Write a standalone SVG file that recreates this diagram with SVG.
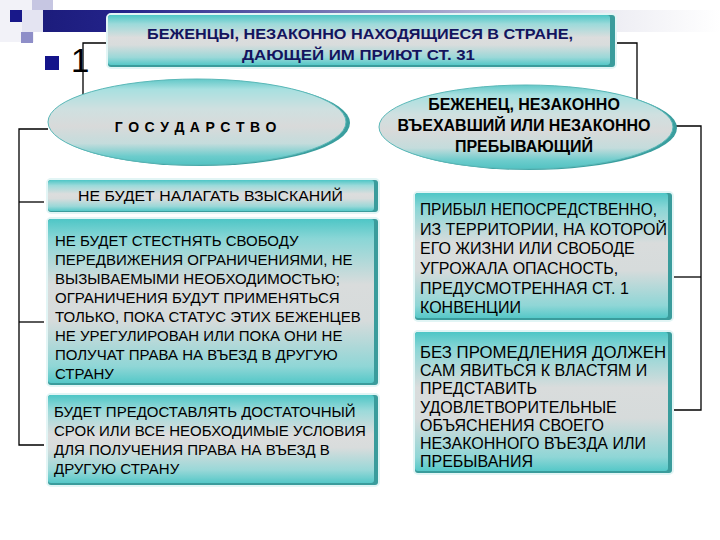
<svg xmlns="http://www.w3.org/2000/svg" width="720" height="540" viewBox="0 0 720 540">
<defs>
<linearGradient id="bar" x1="0" y1="0" x2="1" y2="0">
<stop offset="0" stop-color="#1c1c7c"/>
<stop offset="0.12" stop-color="#23238a"/>
<stop offset="0.5" stop-color="#8a8abf"/>
<stop offset="0.85" stop-color="#eeeef4"/>
<stop offset="1" stop-color="#ffffff"/>
</linearGradient>
<linearGradient id="boxg" x1="0" y1="0" x2="0" y2="1">
<stop offset="0" stop-color="#4ec6c6"/>
<stop offset="0.18" stop-color="#9cdada"/>
<stop offset="0.45" stop-color="#dcdddd"/>
<stop offset="0.6" stop-color="#d8dcdc"/>
<stop offset="0.85" stop-color="#9ad8d8"/>
<stop offset="1" stop-color="#55c8c8"/>
</linearGradient>
<linearGradient id="tallg" x1="0" y1="0" x2="0" y2="1">
<stop offset="0" stop-color="#4ec6c6"/>
<stop offset="0.12" stop-color="#8ad6d6"/>
<stop offset="0.4" stop-color="#d9dcdc"/>
<stop offset="0.62" stop-color="#d6dbdb"/>
<stop offset="0.9" stop-color="#8fd6d6"/>
<stop offset="1" stop-color="#55c8c8"/>
</linearGradient>
<linearGradient id="ellg" x1="0" y1="0" x2="0" y2="1">
<stop offset="0" stop-color="#62c8c8"/>
<stop offset="0.12" stop-color="#a8e0e0"/>
<stop offset="0.35" stop-color="#cfe0e0"/>
<stop offset="0.55" stop-color="#d8dada"/>
<stop offset="0.75" stop-color="#c4dcdc"/>
<stop offset="0.9" stop-color="#6ccccc"/>
<stop offset="1" stop-color="#52c2c2"/>
</linearGradient>
<style>
.line{fill:none;stroke:#000;stroke-width:1.3}
.edge{fill:#3a9c9c}
.glow{fill:none;stroke:#e2f5f5;stroke-width:4}
.t{font-family:"Liberation Sans","DejaVu Sans",sans-serif;font-size:15px;fill:#000}
.tr{font-family:"Liberation Sans","DejaVu Sans",sans-serif;font-size:16px;fill:#000}
.tb{font-family:"Liberation Sans","DejaVu Sans",sans-serif;font-weight:bold;fill:#000}
.title{font-family:"Liberation Sans","DejaVu Sans",sans-serif;font-weight:bold;font-size:15px;fill:#14145e}
.ell{fill:url(#ellg);stroke:#5ab8b8;stroke-width:1}
.ellsh{fill:#3a9e9e}
</style>
</defs>
<rect width="720" height="540" fill="#ffffff"/>
<g id="decor">
<rect x="0" y="0" width="34" height="42" fill="#f2f2f8"/>
<rect x="32" y="0" width="21" height="22" fill="#c6c6e2"/>
<rect x="22" y="10" width="21" height="22" fill="#e4e4f2"/>
<rect x="43" y="10" width="677" height="22" fill="url(#bar)"/>
<rect x="21" y="32" width="12" height="11" fill="#8e8ec8"/>
<rect x="10" y="10" width="12" height="12" fill="#18188a"/>
<rect x="45" y="56" width="14" height="14" fill="#14148a"/>
<text x="71" y="72" font-family="Liberation Sans, sans-serif" font-size="33" fill="#000">1</text>
</g>
<g id="connectors">
<polyline class="line" points="108,43 83,43 83,100"/>
<polyline class="line" points="612,43 637,43 637,100"/>
<polyline class="line" points="48,129 19,129 19,445 44,445"/>
<line class="line" x1="19" y1="202" x2="44" y2="202"/>
<line class="line" x1="19" y1="322" x2="44" y2="322"/>
<polyline class="line" points="672,126 701,126 701,410 672,410"/>
<line class="line" x1="672" y1="277" x2="701" y2="277"/>
</g>
<g id="title">
<rect class="glow" x="108" y="15" width="507" height="52" rx="3"/>
<rect class="edge" x="108" y="15" width="507" height="52" rx="3"/>
<rect x="108" y="15" width="502" height="50" rx="3" fill="url(#boxg)"/>
<text class="title" x="147" y="39" textLength="426" lengthAdjust="spacingAndGlyphs">БЕЖЕНЦЫ, НЕЗАКОННО НАХОДЯЩИЕСЯ В СТРАНЕ,</text>
<text class="title" x="242" y="60" textLength="233" lengthAdjust="spacingAndGlyphs">ДАЮЩЕЙ ИМ ПРИЮТ СТ. 31</text>
</g>
<g id="state">
<ellipse class="ellsh" cx="200" cy="123" rx="150" ry="43"/>
<ellipse class="ell" cx="197" cy="122" rx="149" ry="43"/>
<text class="tb" x="196" y="132" font-size="14" text-anchor="middle" letter-spacing="0.8">Г О С У Д А Р С Т В О</text>
</g>
<g id="refugee">
<ellipse class="ellsh" cx="529" cy="128" rx="148" ry="42"/>
<ellipse class="ell" cx="526" cy="127" rx="147" ry="42"/>
<text class="tb" font-size="16" text-anchor="middle"><tspan x="524" y="110">БЕЖЕНЕЦ, НЕЗАКОННО</tspan><tspan x="524" y="131">ВЪЕХАВШИЙ ИЛИ НЕЗАКОННО</tspan><tspan x="524" y="152">ПРЕБЫВАЮЩИЙ</tspan></text>
</g>
<g id="l1">
<rect class="glow" x="48" y="180" width="330" height="32" rx="3"/>
<rect class="edge" x="48" y="180" width="330" height="32" rx="3"/>
<rect x="48" y="180" width="326" height="31" rx="3" fill="url(#boxg)"/>
<text class="t" x="78" y="201" font-size="15.5" textLength="265" lengthAdjust="spacingAndGlyphs">НЕ БУДЕТ НАЛАГАТЬ ВЗЫСКАНИЙ</text>
</g>
<g id="l2">
<rect class="glow" x="48" y="219" width="330" height="166" rx="3"/>
<rect class="edge" x="48" y="219" width="330" height="166" rx="3"/>
<rect x="48" y="219" width="326" height="164" rx="3" fill="url(#tallg)"/>
<text class="t"><tspan x="55" y="246">НЕ БУДЕТ СТЕСТНЯТЬ СВОБОДУ</tspan><tspan x="55" y="265">ПЕРЕДВИЖЕНИЯ ОГРАНИЧЕНИЯМИ, НЕ</tspan><tspan x="55" y="284">ВЫЗЫВАЕМЫМИ НЕОБХОДИМОСТЬЮ;</tspan><tspan x="55" y="303">ОГРАНИЧЕНИЯ БУДУТ ПРИМЕНЯТЬСЯ</tspan><tspan x="55" y="322">ТОЛЬКО, ПОКА СТАТУС ЭТИХ БЕЖЕНЦЕВ</tspan><tspan x="55" y="341">НЕ УРЕГУЛИРОВАН ИЛИ ПОКА  ОНИ НЕ</tspan><tspan x="55" y="360">ПОЛУЧАТ ПРАВА НА ВЪЕЗД В ДРУГУЮ</tspan><tspan x="55" y="379">СТРАНУ</tspan></text>
</g>
<g id="l3">
<rect class="glow" x="48" y="395" width="330" height="90" rx="3"/>
<rect class="edge" x="48" y="395" width="330" height="90" rx="3"/>
<rect x="48" y="395" width="326" height="88" rx="3" fill="url(#boxg)"/>
<text class="t"><tspan x="54" y="417">БУДЕТ ПРЕДОСТАВЛЯТЬ ДОСТАТОЧНЫЙ</tspan><tspan x="54" y="436">СРОК ИЛИ ВСЕ НЕОБХОДИМЫЕ УСЛОВИЯ</tspan><tspan x="54" y="455">ДЛЯ ПОЛУЧЕНИЯ ПРАВА НА ВЪЕЗД В</tspan><tspan x="54" y="474">ДРУГУЮ СТРАНУ</tspan></text>
</g>
<g id="r1">
<rect class="glow" x="415" y="193" width="257" height="127" rx="3"/>
<rect class="edge" x="415" y="193" width="257" height="127" rx="3"/>
<rect x="415" y="193" width="253" height="125" rx="3" fill="url(#tallg)"/>
<text class="tr"><tspan x="420" y="215" textLength="237" lengthAdjust="spacingAndGlyphs">ПРИБЫЛ НЕПОСРЕДСТВЕННО,</tspan><tspan x="420" y="234.5">ИЗ ТЕРРИТОРИИ, НА КОТОРОЙ</tspan><tspan x="420" y="254">ЕГО ЖИЗНИ ИЛИ СВОБОДЕ</tspan><tspan x="420" y="274">УГРОЖАЛА  ОПАСНОСТЬ,</tspan><tspan x="420" y="293.5">ПРЕДУСМОТРЕННАЯ СТ. 1</tspan><tspan x="420" y="313">КОНВЕНЦИИ</tspan></text>
</g>
<g id="r2">
<rect class="glow" x="415" y="332" width="257" height="141" rx="3"/>
<rect class="edge" x="415" y="332" width="257" height="141" rx="3"/>
<rect x="415" y="332" width="253" height="139" rx="3" fill="url(#tallg)"/>
<text class="tr"><tspan x="420" y="358" textLength="246" lengthAdjust="spacingAndGlyphs">БЕЗ ПРОМЕДЛЕНИЯ ДОЛЖЕН</tspan><tspan x="420" y="376">САМ ЯВИТЬСЯ К ВЛАСТЯМ И</tspan><tspan x="420" y="394">ПРЕДСТАВИТЬ</tspan><tspan x="420" y="413">УДОВЛЕТВОРИТЕЛЬНЫЕ</tspan><tspan x="420" y="431">ОБЪЯСНЕНИЯ СВОЕГО</tspan><tspan x="420" y="449">НЕЗАКОННОГО ВЪЕЗДА ИЛИ</tspan><tspan x="420" y="467">ПРЕБЫВАНИЯ</tspan></text>
</g>
</svg>
